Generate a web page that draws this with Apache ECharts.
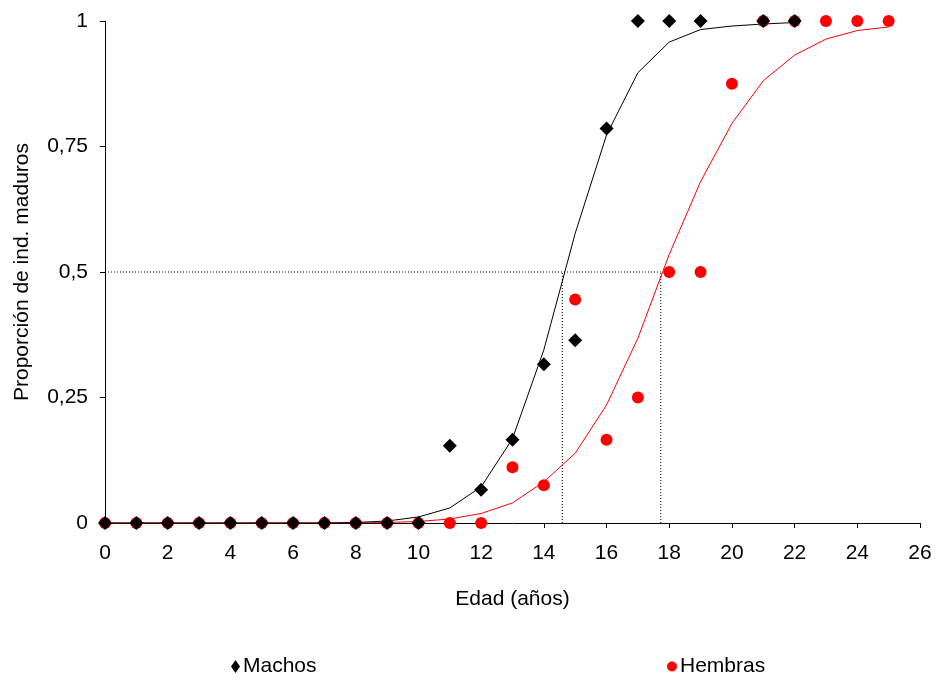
<!DOCTYPE html>
<html>
<head>
<meta charset="utf-8">
<script src="https://cdn.jsdelivr.net/npm/echarts@6/dist/echarts.min.js"></script>
<style>
html,body{margin:0;padding:0;background:#fff;}
#chart{width:939px;height:682px;}
</style>
</head>
<body>
<div id="chart"></div>
<script>
// Observed proportions
const machosX = [0,1,2,3,4,5,6,7,8,9,10,11,12,13,14,15,16,17,18,19,21,22];
const machosY = [0,0,0,0,0,0,0,0,0,0,0,0.154,0.066,0.166,0.316,0.364,0.786,1,1,1,1,1];
const hembrasX = [0,1,2,3,4,5,6,7,8,9,10,11,12,13,14,15,16,17,18,19,20,21,22,23,24,25];
const hembrasY = [0,0,0,0,0,0,0,0,0,0,0,0,0,0.111,0.075,0.445,0.166,0.25,0.5,0.5,0.875,1,1,1,1,1];
// Fitted curves
const ajusteMachosX = [0,1,2,3,4,5,6,7,8,9,10,11,12,13,14,15,16,17,18,19,20,21,22];
const ajusteMachosY = [0,0,0,0,0,0,0,0,0.001,0.004,0.012,0.03,0.072,0.168,0.345,0.577,0.773,0.897,0.958,0.983,0.99,0.994,0.997];
const ajusteHembrasX = [0,1,2,3,4,5,6,7,8,9,10,11,12,13,14,15,16,17,18,19,20,21,22,23,24,25];
const ajusteHembrasY = [0,0,0,0,0,0,0,0,0,0.001,0.003,0.008,0.019,0.04,0.082,0.139,0.235,0.368,0.535,0.68,0.796,0.881,0.932,0.964,0.981,0.988];
// Reference lines (50% maturity)
const l50Machos = 14.59;
const l50Hembras = 17.73;
const nivel50 = 0.5;
// Axis
const xMin = 0, xMax = 26, xStep = 2;
const yMin = 0, yMax = 1, yStep = 0.25;

const font = "'Liberation Sans', Arial, sans-serif";
const zip = (xs, ys) => xs.map((x, i) => [x, ys[i]]);

const chart = echarts.init(document.getElementById('chart'), null, {renderer: 'canvas'});
const dotted = {color: '#000', width: 1, type: [1, 2]};
chart.setOption({
  animation: false,
  backgroundColor: '#fff',
  textStyle: {fontFamily: font},
  grid: {left: 105, right: 19, top: 21, bottom: 159, containLabel: false},
  legend: [
    {data: [{name: 'Machos', icon: 'diamond'}], left: 226, top: 651, itemWidth: 9, itemHeight: 13, itemGap: 0,
     textStyle: {fontFamily: font, fontSize: 21, color: '#000', padding: [0,0,0,-2]}},
    {data: [{name: 'Hembras', icon: 'circle'}], left: 662, top: 651, itemWidth: 10, itemHeight: 10,
     textStyle: {fontFamily: font, fontSize: 21, color: '#000', padding: [0,0,0,-2]}}
  ],
  xAxis: {
    type: 'value', min: xMin, max: xMax, interval: xStep,
    name: 'Edad (años)', nameLocation: 'middle', nameGap: 66,
    nameTextStyle: {fontFamily: font, fontSize: 21, color: '#000'},
    axisLine: {onZero: false, lineStyle: {color: '#000', width: 1}},
    axisTick: {show: true, inside: false, length: 5, lineStyle: {color: '#000'}},
    axisLabel: {fontFamily: font, fontSize: 21, color: '#000', margin: 20},
    splitLine: {show: false}
  },
  yAxis: {
    type: 'value', min: yMin, max: yMax, interval: yStep,
    name: 'Proporción de ind. maduros', nameLocation: 'middle', nameGap: 72,
    nameTextStyle: {fontFamily: font, fontSize: 21, color: '#000'},
    axisLine: {show: true, lineStyle: {color: '#000', width: 1}},
    axisTick: {show: true, inside: false, length: 5, lineStyle: {color: '#000'}},
    axisLabel: {fontFamily: font, fontSize: 21, color: '#000', margin: 17,
      formatter: v => String(v).replace('.', ',')},
    splitLine: {show: false}
  },
  series: [
    {name: 'ref1', type: 'line', data: [[xMin, nivel50], [l50Hembras, nivel50]], symbol: 'none', lineStyle: dotted, silent: true, z: 1},
    {name: 'ref2', type: 'line', data: [[l50Machos, 0], [l50Machos, nivel50]], symbol: 'none', lineStyle: dotted, silent: true, z: 1},
    {name: 'ref3', type: 'line', data: [[l50Hembras, 0], [l50Hembras, nivel50]], symbol: 'none', lineStyle: dotted, silent: true, z: 1},
    {name: 'Ajuste hembras', type: 'line', data: zip(ajusteHembrasX, ajusteHembrasY), symbol: 'none', lineStyle: {color: '#ff0000', width: 1}, z: 2},
    {name: 'Ajuste machos', type: 'line', data: zip(ajusteMachosX, ajusteMachosY), symbol: 'none', lineStyle: {color: '#000', width: 1}, z: 2},
    {name: 'Hembras', type: 'scatter', data: zip(hembrasX, hembrasY), symbol: 'circle', symbolSize: 12, itemStyle: {color: '#ff0000', opacity: 1}, z: 3},
    {name: 'Machos', type: 'scatter', data: zip(machosX, machosY), symbol: 'diamond', symbolSize: [14, 14], itemStyle: {color: '#000', opacity: 1}, z: 4}
  ]
});
</script>
</body>
</html>
